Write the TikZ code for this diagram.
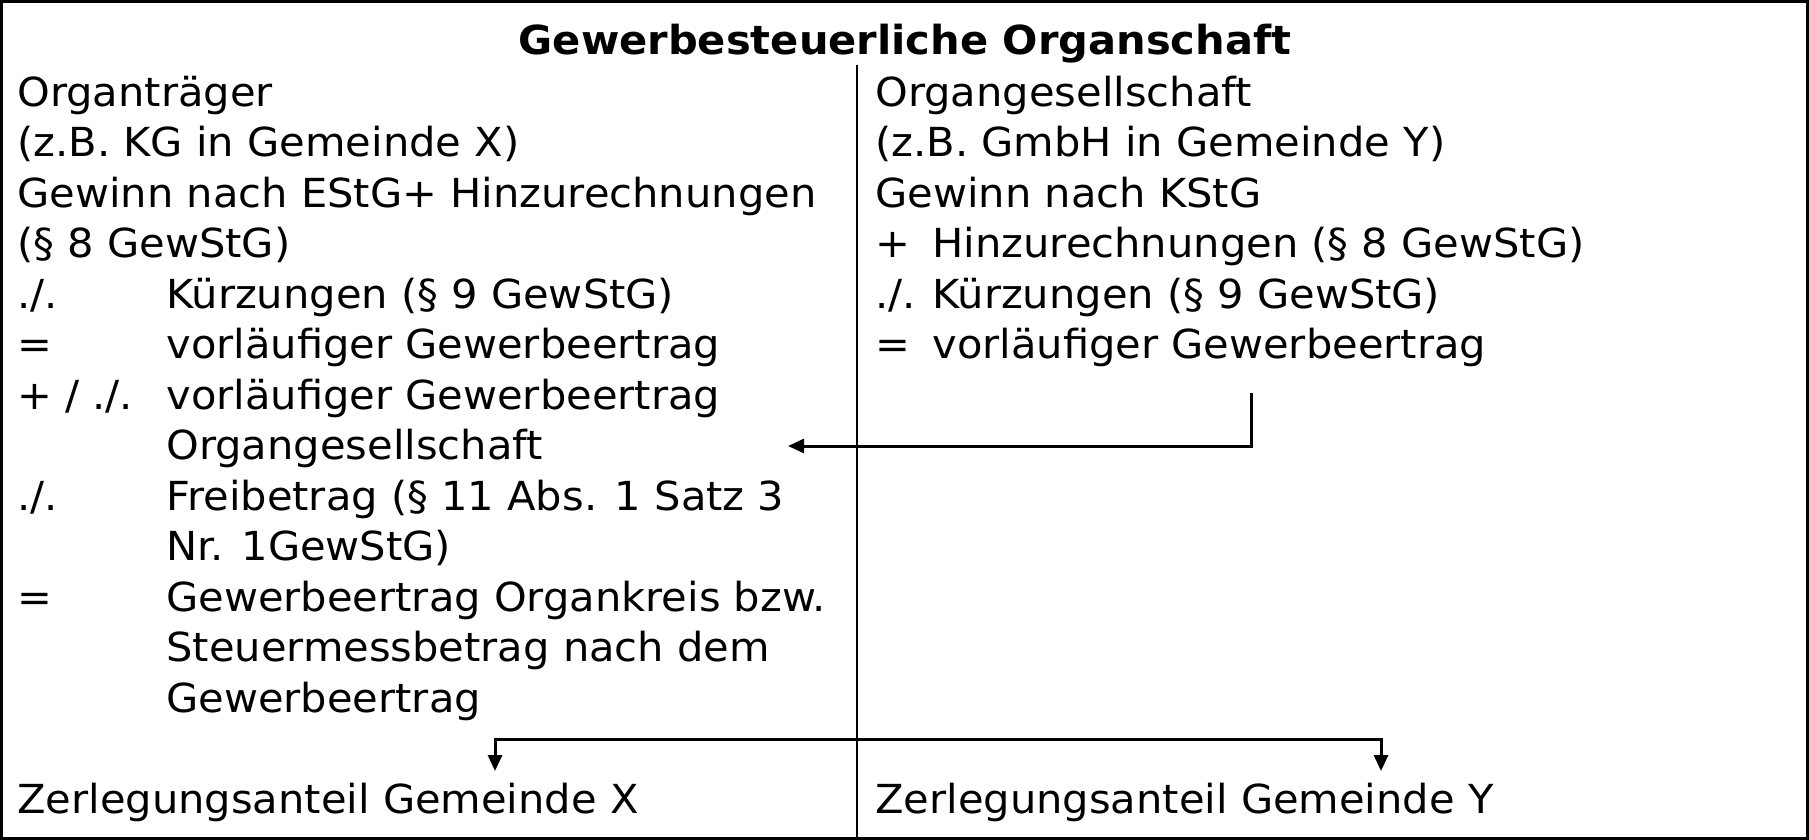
\documentclass[tikz,border=0pt]{standalone}
\usepackage{fontspec}
\setmainfont{DejaVu Sans}[FakeStretch=1.04]
\usepackage{tikz}
\usetikzlibrary{arrows.meta}

\begin{document}
\begin{tikzpicture}[x=0.5pt,y=-0.5pt,
	txt/.style={anchor=base west,inner sep=0pt,font=\fontsize{20}{24}\selectfont},
	head/.style={anchor=base,inner sep=0pt,font=\fontsize{20}{24}\selectfont\bfseries},
	pfeil/.style={->,line width=1.5pt,>={Triangle[width=7pt,length=8pt]}}]
	\useasboundingbox (0,0) rectangle (1809,840);
	\draw[line width=1.5pt] (1.5,1.5) rectangle (1807.5,838.5);
	\node[head] (T) at (905,55) {Gewerbesteuerliche Organschaft};
	%
	%  ORGANTRAEGER
	%
	\node[txt] (L1) at (17,106) {Organträger};
	\node[txt] (L2) at (17,156.5) {(z.B. KG in Gemeinde X)};
	\node[txt] (L3) at (17,207) {Gewinn nach EStG+ Hinzurechnungen};
	\node[txt] (L4) at (17,257.5) {(§ 8 GewStG)};
	\node[txt] (P5) at (17,308) {./.};
	\node[txt] (L5) at (166,308) {Kürzungen (§ 9 GewStG)};
	\node[txt] (P6) at (17,358.5) {=};
	\node[txt] (L6) at (166,358.5) {vorläufiger Gewerbeertrag};
	\node[txt] (P7) at (17,409) {+ / ./.};
	\node[txt] (L7) at (166,409) {vorläufiger Gewerbeertrag};
	\node[txt] (L8) at (166,459.5) {Organgesellschaft};
	\node[txt] (P9) at (17,510) {./.};
	\node[txt] (L9) at (166,510) {Freibetrag (§ 11 Abs. 1 Satz 3};
	\node[txt] (L10) at (166,560.5) {Nr. 1GewStG)};
	\node[txt] (P11) at (17,611) {=};
	\node[txt] (L11) at (166,611) {Gewerbeertrag Organkreis bzw.};
	\node[txt] (L12) at (166,661.5) {Steuermessbetrag nach dem};
	\node[txt] (L13) at (166,712) {Gewerbeertrag};
	\node[txt] (ZX) at (17,813) {Zerlegungsanteil Gemeinde X};
	%
	%  ORGANGESELLSCHAFT
	%
	\node[txt] (R1) at (875,106) {Organgesellschaft};
	\node[txt] (R2) at (875,156.5) {(z.B. GmbH in Gemeinde Y)};
	\node[txt] (R3) at (875,207) {Gewinn nach KStG};
	\node[txt] (Q4) at (875,257.5) {+};
	\node[txt] (R4) at (932,257.5) {Hinzurechnungen (§ 8 GewStG)};
	\node[txt] (Q5) at (875,308) {./.};
	\node[txt] (R5) at (932,308) {Kürzungen (§ 9 GewStG)};
	\node[txt] (Q6) at (875,358.5) {=};
	\node[txt] (R6) at (932,358.5) {vorläufiger Gewerbeertrag};
	\node[txt] (ZY) at (875,813) {Zerlegungsanteil Gemeinde Y};
	%
	%  LINIEN
	%
	\coordinate (D1) at (857,65);
	\coordinate (D2) at (857,838);
	\coordinate (A1) at (1251,393);
	\coordinate (A2) at (788,446);
	\coordinate (S) at (857,739);
	\coordinate (X1) at (495,771);
	\coordinate (Y1) at (1381,771);
	\draw[line width=1pt] (D1) -- (D2);
	\draw[pfeil] (A1) |- (A2);
	\draw[pfeil] (S) -| (X1);
	\draw[pfeil] (S) -| (Y1);
\end{tikzpicture}
\end{document}
